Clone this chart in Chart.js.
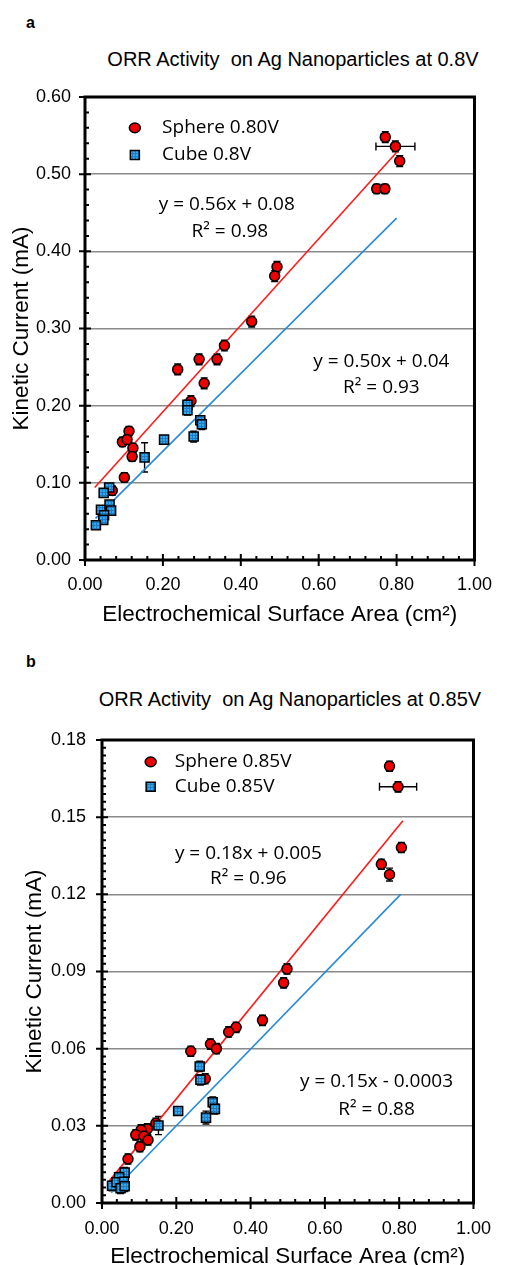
<!DOCTYPE html>
<html>
<head>
<meta charset="utf-8">
<script src="https://cdn.jsdelivr.net/npm/chart.js@4.4.0/dist/chart.umd.min.js"></script>
<style>
    html, body { margin: 0; padding: 0; background: #fff; }
    body { width: 506px; height: 1265px; position: relative; overflow: hidden; font-family: "Liberation Sans", Arial, sans-serif; color: #000; }
    .panel { position: absolute; left: 0; }
    .letter { position: absolute; font-weight: bold; font-size: 16px; transform: translateY(-50%); }
    .title { position: absolute; font-size: 20px; white-space: pre; transform: translate(-50%, -50%); }
</style>
</head>
<body>
<div class="letter" style="left:26px; top:23px;">a</div>
<div class="title" style="left:293px; top:59px;">ORR Activity  on Ag Nanoparticles at 0.8V</div>
<canvas id="chartA" class="panel" width="506" height="640" style="top:0;"></canvas>

<div class="letter" style="left:26px; top:662px;">b</div>
<div class="title" style="left:290px; top:699px;">ORR Activity  on Ag Nanoparticles at 0.85V</div>
<canvas id="chartB" class="panel" width="506" height="640" style="top:640px;"></canvas>

<script>
// Panel a : 0.8V
const sphereAX = [0.771, 0.797, 0.808, 0.749, 0.770, 0.493, 0.487, 0.428, 0.358, 0.339, 0.293, 0.238, 0.306, 0.272, 0.113, 0.096, 0.108, 0.123, 0.121, 0.101, 0.070];
const sphereAY = [0.548, 0.536, 0.517, 0.481, 0.481, 0.380, 0.368, 0.309, 0.278, 0.260, 0.260, 0.247, 0.229, 0.206, 0.167, 0.153, 0.156, 0.145, 0.134, 0.107, 0.090];
const sphereAErrX = [0.010, 0.050, 0.008, 0.010, 0.010, 0.005, 0.005, 0.004, 0, 0.004, 0, 0, 0, 0, 0, 0, 0, 0, 0, 0, 0];
const sphereAErrY = [0.007, 0.007, 0.007, 0.006, 0.006, 0.007, 0.007, 0.007, 0.007, 0.007, 0.007, 0.007, 0.007, 0.007, 0.006, 0.006, 0.006, 0.006, 0.006, 0.006, 0.006];
const cubeAX = [0.263, 0.263, 0.296, 0.300, 0.279, 0.203, 0.153, 0.062, 0.048, 0.041, 0.063, 0.067, 0.049, 0.047, 0.028];
const cubeAY = [0.201, 0.194, 0.181, 0.176, 0.160, 0.156, 0.133, 0.094, 0.087, 0.065, 0.072, 0.064, 0.058, 0.052, 0.045];
const cubeAErrX = [0, 0, 0, 0, 0, 0, 0, 0, 0, 0, 0, 0, 0, 0, 0];
const cubeAErrY = [0.006, 0.006, 0.006, 0.007, 0.007, 0.005, 0.019, 0.005, 0.005, 0.005, 0.005, 0.006, 0.006, 0.005, 0.004];
const sphereFitAX = [0.025, 0.810];
const sphereFitAY = [0.094, 0.534];
const cubeFitAX = [0.027, 0.800];
const cubeFitAY = [0.054, 0.443];
const xTicksA = [0, 0.2, 0.4, 0.6, 0.8, 1.0];
const yTicksA = [0, 0.1, 0.2, 0.3, 0.4, 0.5, 0.6];

// Panel b : 0.85V
const sphereBX = [0.774, 0.797, 0.806, 0.752, 0.774, 0.498, 0.489, 0.432, 0.361, 0.341, 0.292, 0.308, 0.239, 0.278, 0.145, 0.122, 0.105, 0.091, 0.113, 0.124, 0.102, 0.070];
const sphereBY = [0.1698, 0.1618, 0.1382, 0.1317, 0.1277, 0.0910, 0.0856, 0.0710, 0.0683, 0.0665, 0.0618, 0.0600, 0.0590, 0.0483, 0.0310, 0.0288, 0.0284, 0.0265, 0.0260, 0.0245, 0.0219, 0.0171];
const sphereBErrX = [0.010, 0.050, 0.008, 0.006, 0.008, 0.006, 0.005, 0.004, 0, 0, 0, 0, 0, 0, 0, 0, 0, 0, 0, 0, 0, 0];
const sphereBErrY = [0.002, 0.002, 0.002, 0.002, 0.0025, 0.002, 0.002, 0.002, 0.002, 0.002, 0.002, 0.002, 0.002, 0.002, 0.002, 0.002, 0.002, 0.002, 0.002, 0.002, 0.002, 0.002];
const cubeBX = [0.263, 0.265, 0.298, 0.304, 0.280, 0.205, 0.152, 0.061, 0.046, 0.027, 0.039, 0.059, 0.050, 0.061];
const cubeBY = [0.0531, 0.0479, 0.0392, 0.0366, 0.0332, 0.0358, 0.0301, 0.0118, 0.0100, 0.0067, 0.0081, 0.0083, 0.0057, 0.0065];
const cubeBErrX = [0, 0, 0, 0, 0, 0, 0, 0, 0, 0, 0, 0, 0, 0];
const cubeBErrY = [0.002, 0.002, 0.002, 0.002, 0.0025, 0.0015, 0.0035, 0.002, 0.002, 0.002, 0.002, 0.002, 0.002, 0.002];
const sphereFitBX = [0.020, 0.810];
const sphereFitBY = [0.0086, 0.1486];
const cubeFitBX = [0.025, 0.804];
const cubeFitBY = [0.0040, 0.1200];
const xTicksB = [0, 0.2, 0.4, 0.6, 0.8, 1.0];
const yTicksB = [0, 0.03, 0.06, 0.09, 0.12, 0.15, 0.18];

const toPoints = (xs, ys) => xs.map((x, i) => ({ x: x, y: ys[i] }));

// Blue checkered fill of the cube markers
function makeCubeFill() {
    const tile = document.createElement('canvas');
    tile.width = 3;
    tile.height = 3;
    const t = tile.getContext('2d');
    t.fillStyle = '#38a8ee';
    t.fillRect(0, 0, 3, 3);
    t.fillStyle = '#1c7cc4';
    t.fillRect(0, 0, 3, 1);
    t.fillRect(0, 0, 1, 3);
    return t.createPattern(tile, 'repeat');
}
const cubeFill = makeCubeFill();

// Error bars drawn under the markers
const errorBarPlugin = {
    id: 'errorBars',
    beforeDatasetsDraw(chart) {
        const ctx = chart.ctx;
        const xs = chart.scales.x;
        const ys = chart.scales.y;
        ctx.save();
        ctx.strokeStyle = '#000';
        ctx.lineWidth = 1.4;
        chart.data.datasets.forEach(ds => {
            if (!ds.errY) return;
            ds.data.forEach((p, i) => {
                const px = xs.getPixelForValue(p.x);
                const py = ys.getPixelForValue(p.y);
                const ex = ds.errX[i];
                const ey = ds.errY[i];
                ctx.beginPath();
                if (ey) {
                    const y1 = ys.getPixelForValue(p.y - ey);
                    const y2 = ys.getPixelForValue(p.y + ey);
                    ctx.moveTo(px, y1); ctx.lineTo(px, y2);
                    ctx.moveTo(px - 3.5, y1); ctx.lineTo(px + 3.5, y1);
                    ctx.moveTo(px - 3.5, y2); ctx.lineTo(px + 3.5, y2);
                }
                if (ex) {
                    const x1 = xs.getPixelForValue(p.x - ex);
                    const x2 = xs.getPixelForValue(p.x + ex);
                    ctx.moveTo(x1, py); ctx.lineTo(x2, py);
                    ctx.moveTo(x1, py - 4); ctx.lineTo(x1, py + 4);
                    ctx.moveTo(x2, py - 4); ctx.lineTo(x2, py + 4);
                }
                ctx.stroke();
            });
        });
        ctx.restore();
    }
};

// Frame, inner ticks, legend and fit equations
const framePlugin = {
    id: 'frame',
    afterDraw(chart, args, opts) {
        const ctx = chart.ctx;
        const area = chart.chartArea;
        const xs = chart.scales.x;
        const ys = chart.scales.y;
        ctx.save();

        // minor and major ticks
        ctx.strokeStyle = '#000';
        ctx.lineWidth = 2;
        ctx.beginPath();
        const nx = Math.round((xs.max - xs.min) / opts.xMinor);
        for (let i = 0; i <= nx; i++) {
            const px = xs.getPixelForValue(xs.min + i * opts.xMinor);
            ctx.moveTo(px, area.bottom);
            ctx.lineTo(px, area.bottom - 4);
        }
        const ny = Math.round((ys.max - ys.min) / opts.yMinor);
        for (let i = 0; i <= ny; i++) {
            const py = ys.getPixelForValue(ys.min + i * opts.yMinor);
            ctx.moveTo(area.left, py);
            ctx.lineTo(area.left + 4, py);
        }
        xs.ticks.forEach(t => {
            const px = xs.getPixelForValue(t.value);
            ctx.moveTo(px, area.bottom - 6);
            ctx.lineTo(px, area.bottom + 6);
        });
        ys.ticks.forEach(t => {
            const py = ys.getPixelForValue(t.value);
            ctx.moveTo(area.left - 6, py);
            ctx.lineTo(area.left + 6, py);
        });
        ctx.stroke();

        // plot box
        ctx.lineWidth = 3;
        ctx.strokeRect(area.left, area.top, area.right - area.left, area.bottom - area.top);

        // legend
        ctx.font = '19px "Open Sans", sans-serif';
        ctx.textBaseline = 'middle';
        ctx.textAlign = 'left';
        ctx.fillStyle = '#000';
        opts.legend.forEach(item => {
            const ds = chart.data.datasets[item.dataset];
            const mx = xs.getPixelForValue(item.x);
            const my = ys.getPixelForValue(item.y);
            const tx = xs.getPixelForValue(item.textX);
            ctx.fillStyle = ds.backgroundColor;
            ctx.strokeStyle = '#000';
            ctx.lineWidth = 1.5;
            ctx.beginPath();
            if (ds.pointStyle === 'rect') {
                ctx.rect(mx - 4.5, my - 4.5, 9, 9);
            } else {
                ctx.ellipse(mx, my, 5.5, 4.8, 0, 0, Math.PI * 2);
            }
            ctx.fill();
            ctx.stroke();
            ctx.fillStyle = '#000';
            ctx.fillText(ds.label, tx, my);
        });

        // regression equations
        ctx.textAlign = 'center';
        opts.notes.forEach(n => {
            ctx.fillText(n.text, xs.getPixelForValue(n.x), ys.getPixelForValue(n.y));
        });
        ctx.restore();
    }
};

function makePanel(canvasId, p) {
    const tickFont = { family: '"Liberation Sans", Arial, sans-serif', size: 18 };
    const titleFont = { family: '"Liberation Sans", Arial, sans-serif', size: 22.5 };
    const ctx = document.getElementById(canvasId).getContext('2d');
    return new Chart(ctx, {
        type: 'scatter',
        data: {
            datasets: [
                {
                    label: p.cubeLabel,
                    data: toPoints(p.cubeX, p.cubeY),
                    errX: p.cubeErrX,
                    errY: p.cubeErrY,
                    pointStyle: 'rect',
                    pointRadius: 6.4,
                    backgroundColor: cubeFill,
                    borderColor: '#000',
                    borderWidth: 1.5,
                    order: 0
                },
                {
                    label: p.sphereLabel,
                    data: toPoints(p.sphereX, p.sphereY),
                    errX: p.sphereErrX,
                    errY: p.sphereErrY,
                    pointStyle: 'circle',
                    pointRadius: 5,
                    backgroundColor: '#ee0000',
                    borderColor: '#000',
                    borderWidth: 1.5,
                    order: 1
                },
                {
                    type: 'line',
                    label: 'fit sphere',
                    data: toPoints(p.sphereFitX, p.sphereFitY),
                    borderColor: '#ff1a1a',
                    borderWidth: 1.6,
                    pointRadius: 0,
                    fill: false,
                    order: 2
                },
                {
                    type: 'line',
                    label: 'fit cube',
                    data: toPoints(p.cubeFitX, p.cubeFitY),
                    borderColor: '#2a8ad8',
                    borderWidth: 1.6,
                    pointRadius: 0,
                    fill: false,
                    order: 2
                }
            ]
        },
        options: {
            responsive: false,
            animation: false,
            layout: {
                padding: { top: p.top, right: p.right, left: 0, bottom: 0 }
            },
            plugins: {
                legend: { display: false },
                tooltip: { enabled: false },
                frame: {
                    xMinor: p.xMinor,
                    yMinor: p.yMinor,
                    legend: p.legend,
                    notes: p.notes
                }
            },
            scales: {
                x: {
                    type: 'linear',
                    min: 0,
                    max: 1,
                    afterBuildTicks: s => { s.ticks = p.xTicks.map(v => ({ value: v })); },
                    afterFit: s => { s.height = p.xAxisHeight; },
                    ticks: {
                        color: '#000',
                        font: tickFont,
                        padding: p.xTickPad,
                        maxRotation: 0,
                        autoSkip: false,
                        callback: v => Number(v).toFixed(2)
                    },
                    grid: { display: false, drawTicks: false },
                    border: { display: false },
                    title: {
                        display: true,
                        text: 'Electrochemical Surface Area (cm²)',
                        color: '#000',
                        font: titleFont,
                        padding: { top: 0, bottom: p.xTitlePad }
                    }
                },
                y: {
                    type: 'linear',
                    min: p.yTicks[0],
                    max: p.yTicks[p.yTicks.length - 1],
                    afterBuildTicks: s => { s.ticks = p.yTicks.map(v => ({ value: v })); },
                    afterFit: s => { s.width = p.yAxisWidth; },
                    ticks: {
                        color: '#000',
                        font: tickFont,
                        padding: p.yTickPad,
                        autoSkip: false,
                        callback: v => Number(v).toFixed(2)
                    },
                    grid: {
                        drawTicks: false,
                        lineWidth: 1.5,
                        color: c => (c.tick && (c.tick.value === p.yTicks[0] || c.tick.value === p.yTicks[p.yTicks.length - 1])) ? 'rgba(0,0,0,0)' : '#8a8a8a'
                    },
                    border: { display: false },
                    title: {
                        display: true,
                        text: 'Kinetic Current (mA)',
                        color: '#000',
                        font: titleFont,
                        padding: { top: p.yTitlePad, bottom: 0 }
                    }
                }
            }
        },
        plugins: [errorBarPlugin, framePlugin]
    });
}

// Graphique a
const chartA = makePanel('chartA', {
    sphereLabel: 'Sphere 0.80V',
    cubeLabel: 'Cube 0.8V',
    sphereX: sphereAX, sphereY: sphereAY, sphereErrX: sphereAErrX, sphereErrY: sphereAErrY,
    cubeX: cubeAX, cubeY: cubeAY, cubeErrX: cubeAErrX, cubeErrY: cubeAErrY,
    sphereFitX: sphereFitAX, sphereFitY: sphereFitAY,
    cubeFitX: cubeFitAX, cubeFitY: cubeFitAY,
    xTicks: xTicksA, yTicks: yTicksA,
    xMinor: 0.04, yMinor: 0.02,
    top: 97, right: 23, yAxisWidth: 85, xAxisHeight: 80,
    xTickPad: 14, yTickPad: 14, xTitlePad: 12, yTitlePad: 8,
    legend: [
        { dataset: 1, x: 0.128, y: 0.560, textX: 0.198 },
        { dataset: 0, x: 0.128, y: 0.525, textX: 0.198 }
    ],
    notes: [
        { text: 'y = 0.56x + 0.08', x: 0.364, y: 0.460 },
        { text: 'R² = 0.98', x: 0.372, y: 0.425 },
        { text: 'y = 0.50x + 0.04', x: 0.761, y: 0.257 },
        { text: 'R² = 0.93', x: 0.761, y: 0.224 }
    ]
});

// Graphique b
const chartB = makePanel('chartB', {
    sphereLabel: 'Sphere 0.85V',
    cubeLabel: 'Cube 0.85V',
    sphereX: sphereBX, sphereY: sphereBY, sphereErrX: sphereBErrX, sphereErrY: sphereBErrY,
    cubeX: cubeBX, cubeY: cubeBY, cubeErrX: cubeBErrX, cubeErrY: cubeBErrY,
    sphereFitX: sphereFitBX, sphereFitY: sphereFitBY,
    cubeFitX: cubeFitBX, cubeFitY: cubeFitBY,
    xTicks: xTicksB, yTicks: yTicksB,
    xMinor: 0.04, yMinor: 0.003,
    top: 100, right: 21, yAxisWidth: 102, xAxisHeight: 77,
    xTickPad: 15, yTickPad: 16, xTitlePad: 10, yTitlePad: 21,
    legend: [
        { dataset: 1, x: 0.131, y: 0.1715, textX: 0.196 },
        { dataset: 0, x: 0.131, y: 0.1618, textX: 0.196 }
    ],
    notes: [
        { text: 'y = 0.18x + 0.005', x: 0.394, y: 0.1357 },
        { text: 'R² = 0.96', x: 0.394, y: 0.1260 },
        { text: 'y = 0.15x - 0.0003', x: 0.739, y: 0.0471 },
        { text: 'R² = 0.88', x: 0.739, y: 0.0362 }
    ]
});
</script>
</body>
</html>
